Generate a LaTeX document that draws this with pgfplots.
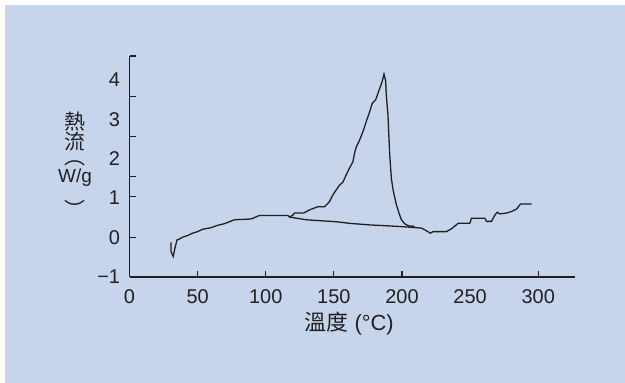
\documentclass[border=0pt]{standalone}
\usepackage{fontspec}
\setmainfont{Liberation Sans}
\newfontfamily\cjk{Noto Sans CJK TC}
\usepackage{pgfplots}
\pgfplotsset{compat=1.18}
\definecolor{bgblue}{HTML}{C6D5EC}
\definecolor{ink}{HTML}{231F20}
\begin{document}
\begin{tikzpicture}[font=\fontsize{20}{24}\selectfont]
\fill[white] (-129.5bp,-106bp) rectangle (495.5bp,277bp);
\fill[bgblue] (-124.5bp,-106bp) rectangle (495.5bp,272bp);
\begin{axis}[at={(0,0)}, anchor=south west, scale only axis,
  width=445.5bp, height=221bp,
  xmin=0, xmax=327, ymin=-1, ymax=4.6,
  axis lines=left,
  axis line style={-, line width=1.2bp, draw=ink},
  xtick={0,50,100,150,200,250,300},
  xticklabels={0,50,100,150,200,250,300},
  ytick={-1,0,1,2,3,4},
  yticklabels={−1,0,1,2,3,4},
  major tick length=0pt,
  xticklabel style={yshift=-9bp, text=ink},
  yticklabel style={xshift=-6bp, text=ink},
  extra x ticks={50,100,150,200,300},
  extra x tick labels={},
  extra y ticks={0,1.05,1.55,2.55,3.57,4.6},
  extra y tick labels={},
  extra tick style={major tick length=6bp, tick align=inside, tick style={draw=ink, line width=1.1bp}},
]
\addplot[ink, line width=1.3bp] coordinates {
(30.4,-0.12) (30.4,-0.35) (32.1,-0.48) (33.4,-0.26) (34.9,-0.06) (36.5,-0.04)
(39,0.01) (42.6,0.05) (46.3,0.11) (50,0.15) (53.7,0.21) (59.9,0.25) (64.7,0.31)
(69.6,0.35) (77,0.45) (89.3,0.47) (95.4,0.56) (116.2,0.56) (117.4,0.52)
(129.7,0.45) (151.8,0.40) (161.5,0.36) (176.3,0.32) (198.3,0.28) (214.3,0.24)
(218,0.17) (220.9,0.11) (222.8,0.15) (232.6,0.15) (236.3,0.22) (241.2,0.36)
(249.8,0.36) (251,0.49) (260.8,0.49) (262,0.41) (265.7,0.41) (268.2,0.57)
(269.9,0.64) (271.8,0.60) (276.8,0.62) (280.4,0.66) (284.1,0.72) (287,0.85)
(295.1,0.85)
};
\addplot[ink, line width=1.3bp] coordinates {
(117.4,0.52) (120,0.57) (121,0.62) (127.8,0.62) (132.1,0.70) (138.2,0.78)
(143.2,0.78) (146.8,0.91) (149.3,1.08) (151.8,1.21) (154.2,1.33) (156.6,1.40)
(159.1,1.59) (161.5,1.76) (164,1.92) (165.2,2.14) (166.5,2.30) (168.9,2.47)
(171.3,2.68) (173.8,2.94) (176.3,3.19) (178.2,3.40) (180.7,3.49) (182.4,3.66)
(184.1,3.82) (185.6,3.97) (186.8,4.14) (188,3.97) (188.5,3.61) (189.7,3.11)
(191,2.09) (192.2,1.5) (193.5,1.2) (195.9,0.83) (198.3,0.57) (199.6,0.45)
(202,0.35) (204.4,0.30) (209.3,0.28)
};
\end{axis}
\begin{scope}[text=ink, every node/.style={inner sep=0pt}]
\node[font=\fontsize{21}{24}\selectfont] at (-54.5bp,155bp) {\cjk 熱};
\node[font=\fontsize{21}{24}\selectfont] at (-54.5bp,135bp) {\cjk 流};
\node[font=\fontsize{21}{24}\selectfont] at (-54.5bp,114bp) {\cjk ︵};
\node[font=\fontsize{19}{22}\selectfont] at (-54.5bp,99bp) {W/g};
\node[font=\fontsize{21}{24}\selectfont] at (-54.5bp,68bp) {\cjk ︶};
\node[font=\fontsize{22}{26}\selectfont] at (219.7bp,-47bp) {{\cjk 溫度} (°C)};
\end{scope}
\pgfresetboundingbox
\useasboundingbox (-129.5bp,-106bp) rectangle (495.5bp,277bp);
\end{tikzpicture}
\end{document}
